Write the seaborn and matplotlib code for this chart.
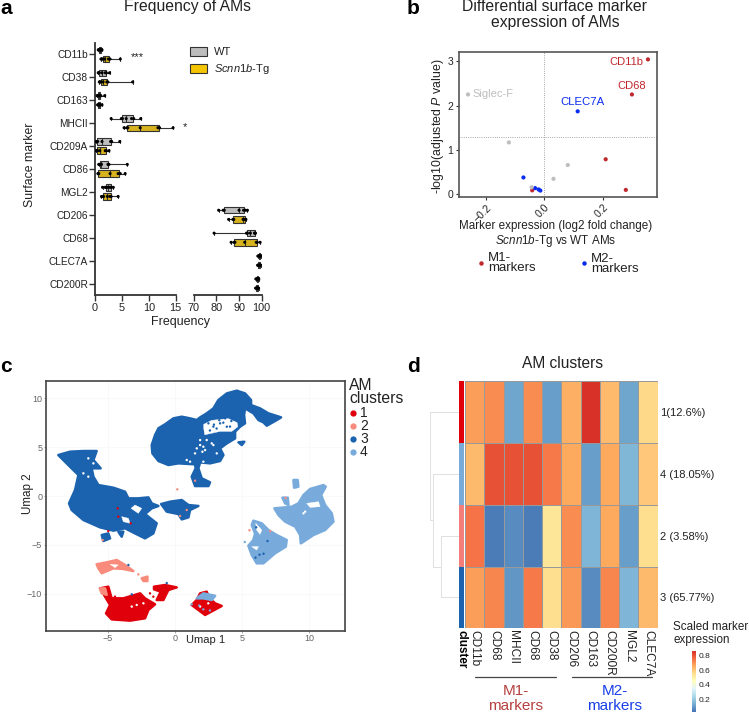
import matplotlib
matplotlib.use("Agg")
import matplotlib.pyplot as plt
from matplotlib.colors import LinearSegmentedColormap, ListedColormap
from matplotlib.patches import Patch
import numpy as np
import pandas as pd
import seaborn as sns

W, H = 749, 713

# Panel a: frequency per marker
markers_a = ["CD11b", "CD38", "CD163", "MHCII", "CD209A", "CD86", "MGL2", "CD206", "CD68", "CLEC7A", "CD200R"]
wt_values = [
    [0.6, 0.7, 0.8, 0.9, 1.0, 1.1, 1.3],
    [0.6, 0.7, 0.8, 1.3, 1.9, 2.1, 2.7],
    [0.4, 0.5, 0.55, 0.7, 0.9, 1.1, 1.8],
    [3.0, 4.9, 5.1, 5.8, 6.8, 7.2, 8.5],
    [0.1, 0.3, 0.5, 1.3, 2.9, 3.1, 4.6],
    [0.7, 0.8, 0.9, 1.2, 2.4, 2.6, 6.0],
    [1.4, 1.9, 2.1, 2.4, 2.8, 3.0, 3.4],
    [81, 83, 83.5, 90, 92, 92.8, 93.7],
    [79, 93.3, 93.7, 95, 96.8, 97.1, 97.2],
    [98.3, 98.6, 98.8, 99, 99.2, 99.3, 99.5],
    [97.4, 97.7, 97.9, 98.1, 98.3, 98.5, 98.7],
]
tg_values = [
    [1.1, 1.3, 1.5, 1.8, 2.5, 2.8, 4.7],
    [0.8, 1.0, 1.1, 1.5, 2.2, 2.4, 7.0],
    [0.5, 0.55, 0.6, 0.8, 0.9, 1.0, 1.3],
    [5.4, 5.9, 6.1, 8.4, 11.7, 12.0, 14.5],
    [0.2, 0.3, 0.5, 0.9, 1.9, 2.1, 2.6],
    [0.55, 0.6, 0.7, 2.8, 4.3, 4.7, 5.6],
    [1.2, 1.5, 1.6, 2.3, 2.8, 3.0, 4.3],
    [85.4, 87.3, 87.7, 91.8, 92.7, 92.9, 93],
    [86.5, 87.8, 88.2, 92.5, 97.6, 98, 99.3],
    [98.2, 98.4, 98.7, 99, 99.2, 99.3, 99.6],
    [97.3, 97.6, 97.8, 98, 98.2, 98.4, 98.6],
]
tg_label = r"$\mathit{Scnn1b}$-Tg"

# Panel b: volcano
m1_x = [0.355, 0.30, 0.21, 0.279, -0.042]
m1_y = [3.04, 2.25, 0.79, 0.10, 0.09]
m2_x = [0.114, -0.072, -0.032, -0.02, -0.014]
m2_y = [1.87, 0.38, 0.14, 0.11, 0.085]
other_x = [-0.262, -0.122, 0.08, 0.031, -0.044]
other_y = [2.25, 1.17, 0.66, 0.35, 0.16]

# Panel c: outlines of the umap clusters
upper_blob = [(-1.74, 5.21), (-1.49, 6.24), (-1.24, 6.92), (-0.75, 7.33), (-0.12, 7.94), (0.5, 8.11), (1.12, 7.94),
              (1.62, 7.77), (1.87, 8.04), (2.36, 8.45), (2.86, 8.96), (3.23, 9.81), (3.86, 10.49), (4.6, 10.77),
              (5.22, 10.49), (5.67, 9.81), (5.67, 9.3), (6.34, 8.96), (6.97, 8.45), (7.91, 8.04), (7.46, 7.67),
              (6.84, 7.19), (6.59, 7.53), (6.22, 7.77), (5.85, 8.45), (5.22, 8.96), (5.15, 8.28), (5.22, 7.43),
              (4.85, 7.09), (4.48, 6.58), (4.48, 5.89), (3.86, 5.38), (3.36, 4.87), (3.61, 4.19), (3.36, 3.58),
              (2.61, 3.34), (1.87, 3.44), (1.74, 2.83), (1.99, 1.81), (2.61, 1.4), (2.49, 1.02), (1.49, 1.02),
              (1.24, 1.98), (1.54, 2.83), (1.49, 3.24), (0.25, 3.34), (-0.5, 3.17), (-1.24, 3.58), (-1.69, 4.36)]
upper_bit = [(4.73, 5.49), (5.17, 5.55), (4.98, 5.21)]
left_blob = [(-8.71, 4.19), (-7.84, 4.53), (-6.84, 4.6), (-5.85, 4.6), (-6.09, 3.68), (-5.55, 2.83), (-6.22, 2.83),
             (-6.09, 1.98), (-5.72, 1.12), (-4.6, 0.85), (-3.73, 0.44), (-3.48, -0.24), (-2.74, -0.24), (-1.99, -0.14),
             (-1.74, -0.75), (-1.24, -1.02), (-1.74, -1.26), (-2.24, -1.84), (-1.37, -2.79), (-1.62, -3.82),
             (-2.24, -4.33), (-2.99, -3.82), (-3.73, -3.3), (-4.6, -3.54), (-5.6, -3.2), (-6.84, -2.45), (-7.71, -1.43),
             (-7.91, -0.75), (-7.46, 0.61), (-7.21, 2.15), (-7.84, 3.0)]
small_blue_1 = [(-5.47, -3.99), (-4.98, -3.82), (-4.85, -4.33), (-5.35, -4.6)]
small_blue_2 = [(-4.23, -3.65), (-3.86, -3.65), (-3.98, -4.16)]
mid_island = [(-1.04, -0.82), (-0.37, -0.58), (0.5, -0.41), (1.0, -0.92), (1.74, -1.02), (1.12, -1.43), (1.0, -2.18),
              (0.5, -2.39), (0.25, -1.84), (-0.62, -1.6)]
light_big = [(7.41, -1.26), (8.21, -1.16), (8.71, -1.09), (9.2, -0.75), (9.58, 0.1), (10.07, 0.72), (11.07, 1.12),
             (11.24, 0.95), (10.9, 0.1), (11.19, -0.92), (11.69, -1.77), (11.82, -2.62), (11.19, -3.48), (10.32, -3.99),
             (9.58, -4.67), (9.38, -4.84), (9.33, -3.99), (8.96, -3.13), (8.21, -2.62), (7.71, -1.94)]
light_mid = [(5.84, -2.52), (6.47, -2.79), (6.97, -3.48), (7.59, -3.99), (8.33, -4.5), (8.26, -5.18), (7.46, -5.86),
             (6.59, -6.88), (6.09, -6.88), (5.72, -6.03), (5.47, -5.08), (5.84, -4.5), (5.97, -3.82), (5.72, -2.97)]
light_top = [(8.83, 1.64), (9.15, 1.64), (9.2, 0.95), (8.88, 0.85)]
light_side = [(8.01, -0.17), (8.41, -0.17), (8.46, -0.92), (8.21, -0.75)]
light_in_red = [(1.62, -10.46), (2.11, -9.95), (2.99, -10.2), (2.74, -10.63), (2.11, -10.46)]
red_main = [(-5.6, -9.44), (-4.98, -9.27), (-4.73, -10.46), (-3.86, -10.46), (-2.61, -9.95), (-2.24, -10.46),
            (-1.49, -11.07), (-1.99, -11.65), (-2.24, -12.5), (-3.36, -12.74), (-4.73, -12.61), (-5.15, -12.0),
            (-4.85, -11.14), (-5.22, -10.29)]
red_upper = [(-1.57, -9.27), (-0.75, -9.1), (0.12, -9.34), (-0.5, -9.61), (-0.75, -10.29), (-0.87, -10.63),
             (-1.37, -10.63), (-1.07, -9.78), (-1.57, -9.54)]
red_right = [(1.87, -9.95), (2.36, -9.78), (2.56, -10.46), (2.99, -10.97), (3.48, -11.24), (2.24, -12.16),
             (1.74, -11.65), (1.24, -11.14), (1.62, -10.63)]
salmon_top = [(-5.85, -6.98), (-5.1, -6.78), (-4.35, -6.54), (-3.73, -7.05), (-3.11, -7.67), (-3.86, -7.46),
              (-4.6, -7.39), (-5.47, -7.9), (-5.72, -7.39)]
salmon_small = [(-2.49, -8.41), (-2.06, -8.24), (-2.06, -8.69), (-2.36, -8.69)]
salmon_arm = [(-5.6, -9.44), (-5.22, -9.44), (-5.1, -10.1), (-5.47, -9.95)]
# white gaps inside the clusters
gap_upper = [(2.14, 7.33), (2.74, 7.74), (3.98, 7.91), (4.63, 7.5), (4.68, 7.09), (4.23, 6.61), (3.36, 6.61),
             (2.21, 6.26), (2.14, 6.92)]
gap_left_1 = [(-3.28, -1.26), (-2.99, -0.92), (-2.49, -1.26), (-2.74, -1.77)]
gap_left_2 = [(-3.98, -2.11), (-3.48, -2.28), (-3.36, -2.79), (-3.86, -2.62)]
gap_light_1 = [(9.82, -0.75), (10.7, -0.58), (10.82, -1.09), (10.07, -1.16)]
gap_light_2 = [(6.02, -2.79), (6.47, -3.48), (6.34, -3.92), (6.09, -3.48)]
gap_light_3 = [(5.72, -5.18), (6.22, -5.18), (6.09, -5.52)]
gap_salmon = [(-4.85, -6.98), (-4.23, -7.05), (-4.48, -7.32)]

# single cells scattered around the clusters
cells_1_x = [-4.28, -4.23, -3.31, -4.98, -4.48, -4.23, -1.87, -1.62]
cells_1_y = [-1.26, -2.11, -2.79, -3.58, -10.29, -10.63, -9.95, -10.29]
cells_2_x = [0.87, 0.37, -5.4, 0.17, 1.49, -2.74, 5.55, 8.25, 7.1]
cells_2_y = [-1.43, -2.04, -4.5, 0.68, 1.57, -8.01, -3.5, -0.2, -3.6]
cells_3_x = [3.36, 3.86, 2.86, 2.49, 4.2, 3.73, 6.34, 6.59, 7.09, 6.97, -3.23, -0.62, -3.48, 6.9, 6.3, 6.0, 6.6, 6.05,
             3.1, 3.6, 2.6, 4.1, 3.3, 2.9]
cells_3_y = [7.43, 7.09, 7.09, 7.43, 7.67, 7.94, 7.94, 8.11, 7.77, 8.11, -10.05, -8.9, -7.05, -4.6, -6.0, -6.3, -5.9, -3.2,
             6.9, 7.5, 6.7, 7.1, 7.75, 7.3]
cells_4_x = [1.24, 2.11, 5.2, 2.6, 1.8]
cells_4_y = [-11.07, -11.59, -4.7, -11.7, -11.2]
cells_gap_x = [1.62, 1.87, 2.11, 2.24, 2.04, 2.74, 2.86, 1.49, 0.87, 1.12, 2.11, 1.87, 2.36, 3.11, -6.47, -6.09, -6.84,
               -6.47, 9.58, 9.7, -3.23, -2.86, -2.36, 1.87, 2.48]
cells_gap_y = [4.87, 5.21, 5.04, 4.7, 4.53, 5.38, 5.21, 4.36, 3.68, 3.51, 3.51, 5.72, 5.72, 4.36, 3.85, 3.34, 2.32,
               1.98, -1.77, -1.6, -11.3, -11.14, -10.97, -11.3, -10.97]
cluster_colors = {"1": "#E0000B", "2": "#F98B7C", "3": "#1C63AF", "4": "#78ABDC", "gap": "white"}

# Panel d: heatmap
heat_columns = ["CD11b", "CD68", "MHCII", "CD68", "CD38", "CD206", "CD163", "CD200R", "MGL2", "CLEC7A"]
heat_rows = ["1(12.6%)", "4 (18.05%)", "2 (3.58%)", "3 (65.77%)"]
row_1 = [0.68, 0.71, 0.12, 0.71, 0.105, 0.65, 0.86, 0.63, 0.12, 0.565]
row_4 = [0.63, 0.805, 0.805, 0.805, 0.74, 0.66, 0.105, 0.66, 0.155, 0.60]
row_2 = [0.75, 0.04, 0.07, 0.04, 0.53, 0.71, 0.15, 0.66, 0.105, 0.55]
row_3 = [0.68, 0.72, 0.09, 0.74, 0.55, 0.69, 0.07, 0.72, 0.15, 0.63]
row_cluster = [0, 3, 1, 2]
legend_ticks = [0.2, 0.4, 0.6, 0.8]

sns.set_theme(style="ticks")
plt.rcParams["font.family"] = ["Liberation Sans", "DejaVu Sans"]
plt.rcParams["mathtext.fontset"] = "custom"
plt.rcParams["mathtext.rm"] = "Liberation Sans"
plt.rcParams["mathtext.it"] = "Liberation Sans:italic"
TXT = "#222222"

fig = plt.figure(figsize=(W / 100, H / 100), dpi=100)


def px_axes(left, top, right, bottom):
    return fig.add_axes([left / W, 1 - bottom / H, (right - left) / W, (bottom - top) / H])


# overlay in pixels, only used for the free text and legends
ov = fig.add_axes([0, 0, 1, 1], zorder=10)
ov.set_xlim(0, W)
ov.set_ylim(H, 0)
ov.axis("off")
ov.patch.set_alpha(0)

for letter, x, y in [("a", 0, 9), ("b", 407, 9), ("c", 0, 366), ("d", 407, 366)]:
    ov.text(x, y, letter, fontsize=15, fontweight="bold", color="black", va="center", ha="left")

# ---- a ----
rows = []
for m, wt, tg in zip(markers_a, wt_values, tg_values):
    rows += [{"marker": m, "group": "WT", "value": v} for v in wt]
    rows += [{"marker": m, "group": "Tg", "value": v} for v in tg]
df_a = pd.DataFrame(rows)

ax_l = px_axes(95, 43, 175.7, 295)
ax_r = px_axes(193.7, 43, 261.7, 295)
palette_a = {"WT": "#BDBDBD", "Tg": "#F5C400"}
for ax in (ax_l, ax_r):
    sns.boxplot(data=df_a, x="value", y="marker", hue="group", order=markers_a, hue_order=["WT", "Tg"],
                palette=palette_a, width=0.8, gap=0.3, whis=(0, 100), linewidth=0.8, linecolor="#333333",
                legend=False, ax=ax)
    sns.stripplot(data=df_a, x="value", y="marker", hue="group", order=markers_a, hue_order=["WT", "Tg"],
                  palette=["black", "black"], dodge=True, jitter=False, size=2.2, legend=False, ax=ax)
    ax.set_ylim(10.5, -0.5)
    ax.set_xlabel("")
    ax.set_ylabel("")
    ax.patch.set_alpha(0)
    for s in ("top", "right"):
        ax.spines[s].set_visible(False)
    ax.spines["bottom"].set_linewidth(1.3)
    ax.spines["bottom"].set_color("#333333")
    ax.tick_params(axis="x", labelsize=7.8, length=4, width=1, color="#333333", labelcolor=TXT, pad=2)

ax_l.set_xlim(0, 15)
ax_l.set_xticks([0, 5, 10, 15])
ax_l.spines["left"].set_linewidth(1.3)
ax_l.spines["left"].set_color("#333333")
ax_l.tick_params(axis="y", labelsize=7.3, length=4, width=1, color="#333333", labelcolor=TXT, pad=1)
ax_r.set_xlim(70, 100)
ax_r.set_xticks([70, 80, 90, 100])
ax_r.spines["left"].set_visible(False)
ax_r.set_yticks([])
ax_l.text(7.9, 0.12, "***", fontsize=8, ha="center", va="center", color=TXT)
ax_l.text(16.8, 3.15, "*", fontsize=8, ha="center", va="center", color=TXT, clip_on=False)

ov.text(187, 7, "Frequency of AMs", fontsize=11.3, ha="center", va="center", color=TXT)
ov.text(180, 322, "Frequency", fontsize=9, ha="center", va="center", color=TXT)
ov.text(30, 165, "Surface marker", fontsize=8.8, rotation=90, ha="center", va="center", color=TXT)
ov.legend(handles=[Patch(facecolor="#BDBDBD", edgecolor="#333333", lw=0.8, label="WT"),
                   Patch(facecolor="#F5C400", edgecolor="#333333", lw=0.8, label=tg_label)],
          loc="upper left", bbox_to_anchor=(190 / W, 1 - 46.5 / H), frameon=False, fontsize=8,
          handlelength=1.55, handleheight=0.9, labelspacing=0.45, handletextpad=0.6, labelcolor=TXT,
          borderpad=0, borderaxespad=0)

# ---- b ----
df_b = pd.DataFrame({"fc": m1_x + m2_x + other_x, "p": m1_y + m2_y + other_y,
                     "kind": ["M1"] * len(m1_x) + ["M2"] * len(m2_x) + ["other"] * len(other_x)})
ax_b = px_axes(458.7, 52.3, 657, 197)
ax_b.axhline(1.3, color="#888888", lw=0.6, ls=":")
ax_b.axvline(0, color="#888888", lw=0.6, ls=":")
sns.scatterplot(data=df_b, x="fc", y="p", hue="kind", hue_order=["other", "M1", "M2"],
                palette={"M1": "#C0282D", "M2": "#0A2BF0", "other": "#BEBEBE"}, s=9, linewidth=0, legend=False, ax=ax_b)
ax_b.set_xlim(-0.294, 0.386)
ax_b.set_ylim(-0.06, 3.2)
ax_b.set_xticks([-0.2, 0, 0.2])
ax_b.set_xticklabels(["\u22120.2", "0.0", "0.2"], rotation=45, ha="right", rotation_mode="anchor")
ax_b.set_yticks([0, 1, 2, 3])
ax_b.set_xlabel("")
ax_b.set_ylabel("")
ax_b.tick_params(labelsize=7.5, length=2.5, width=0.8, color="#333333", labelcolor=TXT, pad=1.5)
for s in ax_b.spines.values():
    s.set_linewidth(1.2)
    s.set_color("#555555")
ax_b.text(0.28, 2.98, "CD11b", color="#C0282D", fontsize=8, ha="center", va="center")
ax_b.text(0.30, 2.44, "CD68", color="#C0282D", fontsize=8, ha="center", va="center")
ax_b.text(0.129, 2.07, "CLEC7A", color="#0A2BF0", fontsize=8.2, ha="center", va="center")
ax_b.text(-0.175, 2.26, "Siglec-F", color="#BEBEBE", fontsize=8, ha="center", va="center")

ov.text(555, 14.5, "Differential surface marker\nexpression of AMs", fontsize=11.3, ha="center", va="center",
        color=TXT, linespacing=1.05)
ov.text(556, 234.5, "Marker expression (log2 fold change)\n" + tg_label + " vs WT AMs", fontsize=8.4, ha="center",
        va="center", color=TXT, linespacing=1.05)
ov.text(438, 126, r"-log10(adjusted $\mathit{P}$ value)", fontsize=8.9, rotation=90, ha="center", va="center", color=TXT)
ov.plot([481], [263], "o", ms=3.2, color="#C0282D", mew=0)
ov.plot([584], [263], "o", ms=3.2, color="#0A2BF0", mew=0)
ov.text(488, 263, "M1-\nmarkers", fontsize=9.5, ha="left", va="center", color=TXT, linespacing=0.75)
ov.text(591, 264, "M2-\nmarkers", fontsize=9.5, ha="left", va="center", color=TXT, linespacing=0.75)

# ---- c ----
ax_c = px_axes(45.7, 380.7, 345.3, 631)
shapes = [(upper_blob, "3"), (upper_bit, "3"), (left_blob, "3"), (small_blue_1, "3"), (small_blue_2, "3"),
          (mid_island, "3"), (light_big, "4"), (light_mid, "4"), (light_top, "4"), (light_side, "4"),
          (red_main, "1"), (red_upper, "1"), (red_right, "1"), (light_in_red, "4"),
          (salmon_top, "2"), (salmon_small, "2"), (salmon_arm, "2"),
          (gap_upper, "gap"), (gap_left_1, "gap"), (gap_left_2, "gap"), (gap_light_1, "gap"),
          (gap_light_2, "gap"), (gap_light_3, "gap"), (gap_salmon, "gap")]
for outline, cl in shapes:
    xs, ys = zip(*outline)
    ax_c.fill(xs, ys, color=cluster_colors[cl], lw=0.3 if cl == "gap" else 1.8, joinstyle="round", zorder=2)
df_c = pd.DataFrame({"x": cells_gap_x + cells_1_x + cells_2_x + cells_3_x + cells_4_x,
                     "y": cells_gap_y + cells_1_y + cells_2_y + cells_3_y + cells_4_y,
                     "cluster": ["gap"] * len(cells_gap_x) + ["1"] * len(cells_1_x) + ["2"] * len(cells_2_x)
                     + ["3"] * len(cells_3_x) + ["4"] * len(cells_4_x)})
sns.scatterplot(data=df_c, x="x", y="y", hue="cluster", palette=cluster_colors, s=3, linewidth=0, legend=False,
                ax=ax_c, zorder=3)
ax_c.set_xlim(-9.65, 12.7)
ax_c.set_ylim(-13.8, 11.79)
ax_c.set_xticks([-5, 0, 5, 10])
ax_c.set_yticks([-10, -5, 0, 5, 10])
ax_c.set_xticklabels(["\u22125", "0", "5", "10"])
ax_c.set_yticklabels(["\u221210", "\u22125", "0", "5", "10"])
ax_c.set_xlabel("")
ax_c.set_ylabel("")
ax_c.grid(True, color="#F7F7F7", lw=0.5)
ax_c.set_axisbelow(True)
ax_c.tick_params(labelsize=6.5, length=1.5, width=0.5, color="#888888", labelcolor="#666666", pad=1)
for s in ax_c.spines.values():
    s.set_linewidth(1.2)
    s.set_color("#444444")

ov.text(206, 640, "Umap 1", fontsize=8, ha="center", va="center", color=TXT)
ov.text(28, 494, "Umap 2", fontsize=8.4, rotation=90, ha="center", va="center", color=TXT)
ov.text(349, 392, "AM\nclusters", fontsize=11.3, ha="left", va="center", color=TXT, linespacing=0.82)
for label, y_leg in zip(["1", "2", "3", "4"], [413, 426, 439, 452]):
    ov.plot([353], [y_leg], "o", ms=4.5, color=cluster_colors[label], mew=0)
    ov.text(360, y_leg, label, fontsize=10, ha="left", va="center", color=TXT)

# ---- d ----
heat = pd.DataFrame([row_1, row_4, row_2, row_3], index=heat_rows)
cmap_d = LinearSegmentedColormap.from_list("am", ["#4575B4", "#74ADD1", "#ABD9E9", "#E0F3F8", "#FFFFBF",
                                                  "#FEE090", "#FDAE61", "#F46D43", "#D73027"])
ax_d = px_axes(465, 381.3, 657.7, 628.3)
ax_cb = px_axes(691.7, 651, 696, 711.7)
sns.heatmap(heat, cmap=cmap_d, vmin=0.025, vmax=0.865, linewidths=0.6, linecolor="#999999", ax=ax_d,
            cbar_ax=ax_cb, xticklabels=heat_columns, yticklabels=heat_rows)
ax_d.yaxis.tick_right()
ax_d.tick_params(axis="y", length=0, labelsize=8, labelcolor=TXT, rotation=0, pad=2)
ax_d.tick_params(axis="x", length=0, labelsize=8.6, labelcolor=TXT, pad=1)
for lab in ax_d.get_xticklabels():
    lab.set_rotation(270)
    lab.set_ha("center")
    lab.set_va("top")
ax_cb.set_yticks(legend_ticks)
ax_cb.tick_params(labelsize=6, length=0, pad=2, labelcolor=TXT)

ax_cl = px_axes(459.3, 381.3, 463.7, 628.3)
sns.heatmap(np.array(row_cluster).reshape(-1, 1), cmap=ListedColormap(["#E0000B", "#F47F7A", "#1C63AF", "#78ABD8"]),
            vmin=0, vmax=3, cbar=False, xticklabels=["cluster"], yticklabels=False, ax=ax_cl)
ax_cl.tick_params(axis="x", length=0, labelsize=8.4, pad=1)
for lab in ax_cl.get_xticklabels():
    lab.set_rotation(270)
    lab.set_fontweight("bold")
    lab.set_color("black")
    lab.set_va("top")

# dendrogram: merge positions follow the rows of the heatmap
ax_den = px_axes(428, 381.3, 459.3, 628.3)
ax_den.set_xlim(0, 1)
ax_den.set_ylim(4, 0)
ax_den.axis("off")
for xs, ys in [([1, 0.42, 0.42, 1], [2.5, 2.5, 3.5, 3.5]),
               ([1, 0.16, 0.16, 0.42], [1.5, 1.5, 3.0, 3.0]),
               ([1, 0.06, 0.06, 0.16], [0.5, 0.5, 2.25, 2.25])]:
    ax_den.plot(xs, ys, color="#E0E0E0", lw=0.7)

ov.text(562.7, 363, "AM clusters", fontsize=11.2, ha="center", va="center", color=TXT)
ov.text(673, 633.5, "Scaled marker\nexpression", fontsize=8.4, ha="left", va="center", color=TXT, linespacing=1.0)
ov.plot([475, 556], [677, 677], color="#444444", lw=0.9)
ov.plot([571.7, 652], [677, 677], color="#444444", lw=0.9)
ov.text(516, 698.5, "M1-\nmarkers", fontsize=11, ha="center", va="center", color="#B5403F", linespacing=1.15)
ov.text(615, 698.5, "M2-\nmarkers", fontsize=11, ha="center", va="center", color="#1A3FE8", linespacing=1.15)

fig.savefig("out.png", dpi=100)
